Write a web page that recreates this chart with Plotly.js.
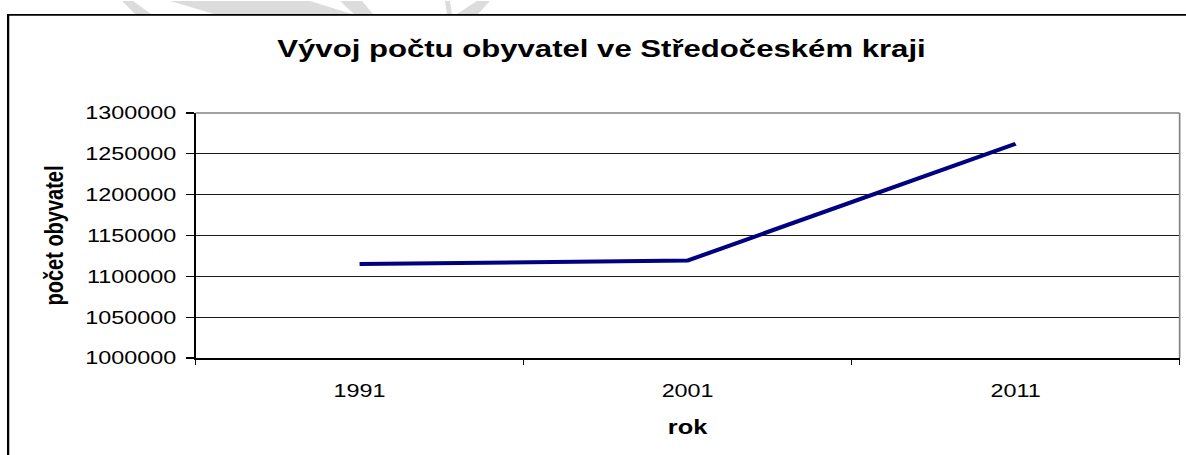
<!DOCTYPE html>
<html>
<head>
<meta charset="utf-8">
<script src="https://cdn.plot.ly/plotly-3.0.1.min.js"></script>
<style>
  html, body { margin: 0; padding: 0; background: #fff; overflow: hidden; }
  #wrap { width: 934px; height: 455px; transform-origin: 0 0; }
</style>
</head>
<body>
<div id="wrap"><div id="chart"></div></div>
<script>
// ---- data ----
const years = ['1991', '2001', '2011'];
const population = [1115200, 1119300, 1262400];
const chartTitle = 'Vývoj počtu obyvatel ve Středočeském kraji';
const xTitle = 'rok';
const yTitle = 'počet obyvatel';

// ---- geometry (the source image is horizontally stretched) ----
const PAGE_W = 1186, PAGE_H = 455;
const W = 934, H = 455;
const S = PAGE_W / W;
document.getElementById('wrap').style.transform = 'scaleX(' + S + ')';

const plotLeft = 195.5 / S, plotRight = 1180 / S, plotTop = 112.5, plotBottom = 358.5;
const M = { l: plotLeft, r: W - plotRight, t: plotTop, b: H - plotBottom, pad: 0 };
const plotW = plotRight - plotLeft, plotH = plotBottom - plotTop;
// page px -> paper coords
const px = x => (x / S - plotLeft) / plotW;
const py = y => 1 - (y - plotTop) / plotH;

function poly(pts) {
  return 'M' + pts.map(p => px(p[0]) + ',' + py(p[1])).join('L') + 'Z';
}

const wmColor = '#dcdcdc';
const watermark = [
  [[122, 0], [133, 0], [151, 13], [135, 13]],
  [[170, 0], [310, 0], [352, 13], [214, 13]],
  [[340, 0], [362, 0], [373, 13], [354, 13]],
  [[445, 0], [450, 0], [452, 13], [447, 13]],
  [[477, 0], [490, 0], [478, 13], [457, 13]]
].map(p => ({ type: 'path', xref: 'paper', yref: 'paper', path: poly(p),
  fillcolor: wmColor, line: { width: 0 }, layer: 'below' }));

const shapes = watermark.concat([
  // outer chart frame
  { type: 'rect', xref: 'paper', yref: 'paper', x0: px(8), x1: px(1300), y0: py(14), y1: py(600),
    line: { color: '#000', width: 1.8 }, layer: 'above' },
  // plot area top / right border (gray)
  { type: 'line', xref: 'paper', yref: 'paper', x0: 0, x1: 1, y0: 1, y1: 1,
    line: { color: '#808080', width: 1.3 } },
  { type: 'line', xref: 'paper', yref: 'paper', x0: 1, x1: 1, y0: 0, y1: 1,
    line: { color: '#808080', width: 1.3 } }
]);

const trace = {
  type: 'scatter', mode: 'lines',
  x: years, y: population,
  line: { color: '#000080', width: 4 },
  hoverinfo: 'x+y'
};

const font = 'Liberation Sans, Arial, sans-serif';
const layout = {
  width: W, height: H,
  margin: M,
  paper_bgcolor: '#fff', plot_bgcolor: '#fff',
  font: { family: font, color: '#000' },
  showlegend: false,
  title: {
    text: chartTitle,
    font: { family: font, size: 24.5, weight: 'bold', color: '#000' },
    xref: 'container', x: 601.5 / PAGE_W, xanchor: 'center',
    yref: 'container', y: 1 - 48 / PAGE_H, yanchor: 'middle'
  },
  xaxis: {
    type: 'category',
    categoryarray: years, categoryorder: 'array',
    range: [-0.5, years.length - 0.5], autorange: false,
    tickson: 'boundaries',
    ticks: 'outside', ticklen: 5, tickwidth: 1.2, tickcolor: '#000',
    showline: true, linecolor: '#000', linewidth: 1.5,
    showgrid: false, zeroline: false,
    tickfont: { family: font, size: 18.4, color: '#000' },
    ticklabelstandoff: 15,
    title: { text: xTitle, font: { family: font, size: 20, weight: 'bold', color: '#000' }, standoff: 20 },
    fixedrange: true
  },
  yaxis: {
    range: [1000000, 1300000], autorange: false,
    tick0: 1000000, dtick: 50000,
    tickformat: 'd',
    ticks: 'outside', ticklen: 6.3, tickwidth: 1.2, tickcolor: '#000',
    showline: true, linecolor: '#000', linewidth: 1.2,
    showgrid: true, gridcolor: '#1a1a1a', gridwidth: 1,
    zeroline: false,
    tickfont: { family: font, size: 18.4, color: '#000' },
    ticklabelstandoff: 4,
    title: { text: yTitle, font: { family: font, size: 20, weight: 'bold', color: '#000' }, standoff: 11 },
    fixedrange: true
  },
  shapes: shapes
};

Plotly.newPlot('chart', [trace], layout, { displayModeBar: false, staticPlot: true });
</script>
</body>
</html>
